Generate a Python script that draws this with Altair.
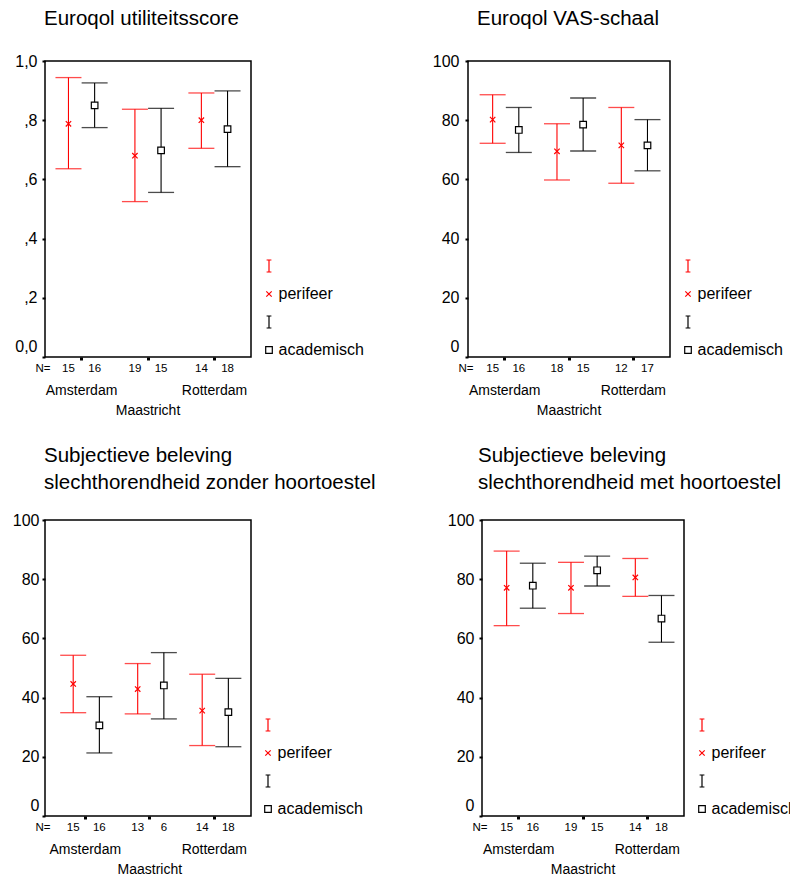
import altair as alt
import pandas as pd

FONT = "Liberation Sans"
RED = "#ff0000"

cities = ["Amsterdam", "Maastricht", "Rotterdam"]
groups = ["perifeer", "academisch"]
legend_keys = ["Ip", "perifeer", "Ia", "academisch"]

# Panel 1: Euroqol utiliteitsscore
p1_mean_per = [0.788, 0.680, 0.800]
p1_lo_per = [0.636, 0.525, 0.705]
p1_hi_per = [0.944, 0.837, 0.892]
p1_n_per = [15, 19, 14]
p1_mean_acad = [0.850, 0.698, 0.770]
p1_lo_acad = [0.775, 0.556, 0.643]
p1_hi_acad = [0.926, 0.840, 0.899]
p1_n_acad = [16, 15, 18]

# Panel 2: Euroqol VAS-schaal
p2_mean_per = [80.2, 69.5, 71.5]
p2_lo_per = [72.2, 59.8, 58.7]
p2_hi_per = [88.6, 78.8, 84.3]
p2_n_per = [15, 18, 12]
p2_mean_acad = [76.7, 78.5, 71.5]
p2_lo_acad = [69.1, 69.6, 62.9]
p2_hi_acad = [84.3, 87.5, 80.2]
p2_n_acad = [16, 15, 17]

# Panel 3: zonder hoortoestel
p3_mean_per = [44.6, 42.9, 35.6]
p3_lo_per = [34.9, 34.5, 23.8]
p3_hi_per = [54.3, 51.5, 47.9]
p3_n_per = [15, 13, 14]
p3_mean_acad = [30.6, 44.1, 35.1]
p3_lo_acad = [21.3, 32.8, 23.4]
p3_hi_acad = [40.3, 55.2, 46.5]
p3_n_acad = [16, 6, 18]

# Panel 4: met hoortoestel
p4_mean_per = [77.1, 77.1, 80.6]
p4_lo_per = [64.3, 68.4, 74.2]
p4_hi_per = [89.5, 85.7, 87.0]
p4_n_per = [15, 19, 14]
p4_mean_acad = [77.8, 83.0, 66.7]
p4_lo_acad = [70.2, 77.7, 58.7]
p4_hi_acad = [85.4, 87.8, 74.5]
p4_n_acad = [16, 15, 18]

ticks_01 = [0, 0.2, 0.4, 0.6, 0.8, 1.0]
ticks_100 = [0, 20, 40, 60, 80, 100]


def make_df(mp, lp, hp, npp, ma, la, ha, na):
    rows = []
    for i, c in enumerate(cities):
        rows.append(dict(city=c, grp="perifeer", mean=mp[i], lo=lp[i], hi=hp[i], n=str(npp[i])))
        rows.append(dict(city=c, grp="academisch", mean=ma[i], lo=la[i], hi=ha[i], n=str(na[i])))
    return pd.DataFrame(rows)


I_PATH = "M-0.4,-1L0.4,-1M0,-1L0,1M-0.4,1L0.4,1"
X_PATH = "M-0.45,-0.45L0.45,0.45M-0.45,0.45L0.45,-0.45"
SQ_PATH = "M-0.55,-0.55L0.55,-0.55L0.55,0.55L-0.55,0.55Z"

H = 296


def panel(df, title_lines, title_dx, title_offset, ymax, yvals, ylabel_expr, width, yext,
          ylabpad, legend_x, xpad, xalign, xopad):
    xaxis = alt.Axis(
        title=None, labelAngle=0, labelFont=FONT, labelFontSize=14, labelColor="black",
        labelExpr="datum.value == 'Maastricht' ? ['', 'Maastricht'] : datum.value",
        labelPadding=23, labelLineHeight=20, tickSize=3, tickWidth=3, tickColor="black",
        domain=False, grid=False, labelBaseline="top",
    )
    x = alt.X("city:N", sort=cities, axis=xaxis,
              scale=alt.Scale(domain=cities, paddingInner=0, paddingOuter=xpad, align=xalign))
    xo = alt.XOffset("grp:N", sort=groups,
                     scale=alt.Scale(domain=groups, paddingInner=0, paddingOuter=xopad))
    yaxis = alt.Axis(
        title=None, values=yvals, labelExpr=ylabel_expr, labelFont=FONT, labelFontSize=16,
        labelColor="black", tickSize=3, tickWidth=2, tickColor="black", labelPadding=ylabpad,
        domain=False, grid=False, minExtent=yext, maxExtent=yext,
        labelOffset={"condition": {"test": "datum.value == 0", "value": -11}, "value": 0},
    )
    ysc = alt.Scale(domain=[0, ymax], nice=False, zero=True, padding=0)
    base = alt.Chart(df)
    stroke = alt.Stroke("grp:N", scale=alt.Scale(domain=groups, range=[RED, "black"]), legend=None)
    fill = alt.Fill("grp:N", scale=alt.Scale(domain=groups, range=[RED, "black"]), legend=None)

    rules = base.mark_rule(strokeWidth=1.1).encode(
        x=x, xOffset=xo, y=alt.Y("lo:Q", scale=ysc, axis=yaxis), y2="hi:Q", stroke=stroke)
    cap_lo = base.mark_tick(size=26, thickness=1.3).encode(
        x=x, xOffset=xo, y=alt.Y("lo:Q", scale=ysc, axis=yaxis), fill=fill)
    cap_hi = base.mark_tick(size=26, thickness=1.3).encode(
        x=x, xOffset=xo, y=alt.Y("hi:Q", scale=ysc, axis=yaxis), fill=fill)
    pts = base.mark_point(filled=False, fill="white", size=144, strokeWidth=1.2, opacity=1).encode(
        x=x, xOffset=xo, y=alt.Y("mean:Q", scale=ysc, axis=yaxis),
        color=alt.Color("grp:N", scale=alt.Scale(domain=legend_keys, range=[RED, RED, "black", "black"]),
                        legend=alt.Legend(
                            title=None, orient="none", legendX=legend_x, legendY=197,
                            symbolSize=144, symbolStrokeWidth=1.2, labelFont=FONT, labelFontSize=16,
                            labelColor="black", labelOffset=1.5, rowPadding=11,
                            labelExpr="(datum.value == 'Ip' || datum.value == 'Ia') ? '' : datum.value",
                        )),
        shape=alt.Shape("grp:N", scale=alt.Scale(domain=legend_keys, range=[I_PATH, X_PATH, I_PATH, SQ_PATH])),
    )
    ntext = base.mark_text(font=FONT, fontSize=11.5, color="black", baseline="middle").encode(
        x=x, xOffset=xo, y=alt.value(H + 12), text="n:N")
    nlabel = alt.Chart(pd.DataFrame({"t": ["N="]})).mark_text(
        font=FONT, fontSize=11.5, color="black", baseline="middle").encode(
        x=alt.value(-2), y=alt.value(H + 12), text="t:N")

    return alt.layer(rules, cap_lo, cap_hi, pts, ntext, nlabel).properties(
        width=width, height=H,
        title=alt.TitleParams(text=title_lines, anchor="start", dx=title_dx, offset=title_offset,
                              font=FONT, fontSize=20.5, fontWeight="normal", color="black",
                              lineHeight=27, frame="group"),
    )


expr01 = "datum.value == 0 ? '0,0' : (datum.value == 1 ? '1,0' : ',' + format(datum.value * 10, 'd'))"
expr100 = "format(datum.value, 'd')"

c1 = panel(make_df(p1_mean_per, p1_lo_per, p1_hi_per, p1_n_per, p1_mean_acad, p1_lo_acad, p1_hi_acad, p1_n_acad),
           ["Euroqol utiliteitsscore"], -1, 23.6, 1.0, ticks_01, expr01, 206, 44, 5, 216, 0.05, 0.5, 0.27)
c2 = panel(make_df(p2_mean_per, p2_lo_per, p2_hi_per, p2_n_per, p2_mean_acad, p2_lo_acad, p2_hi_acad, p2_n_acad),
           ["Euroqol VAS-schaal"], 9, 23.6, 100, ticks_100, expr100, 202, 49, 6, 212, 0.07, 0.5, 0.24)
c3 = panel(make_df(p3_mean_per, p3_lo_per, p3_hi_per, p3_n_per, p3_mean_acad, p3_lo_acad, p3_hi_acad, p3_n_acad),
           ["Subjectieve beleving", "slechthorendheid zonder hoortoestel"], -1, 19, 100, ticks_100, expr100,
           206, 44, 3, 215, 0.097, 0.644, 0.24)
c4 = panel(make_df(p4_mean_per, p4_lo_per, p4_hi_per, p4_n_per, p4_mean_acad, p4_lo_acad, p4_hi_acad, p4_n_acad),
           ["Subjectieve beleving", "slechthorendheid met hoortoestel"], -4, 19, 100, ticks_100, expr100,
           202, 50, 5, 212, 0.07, 0.5, 0.24)


def res(ch):
    return ch.resolve_scale(color="independent", shape="independent", stroke="independent",
                            fill="independent", x="independent", y="independent").resolve_legend(
        color="independent", shape="independent")


row1 = res(alt.hconcat(c1, c2, spacing=53))
row2 = res(alt.hconcat(c3, c4, spacing=54))
chart = res(alt.vconcat(row1, row2, spacing=26)).properties(
    padding={"top": 8, "left": 0, "right": -8, "bottom": 0}, background="white").configure_view(
    stroke="black", strokeWidth=1.5)

chart.save("out.html", embed_options={"renderer": "svg", "actions": False})
